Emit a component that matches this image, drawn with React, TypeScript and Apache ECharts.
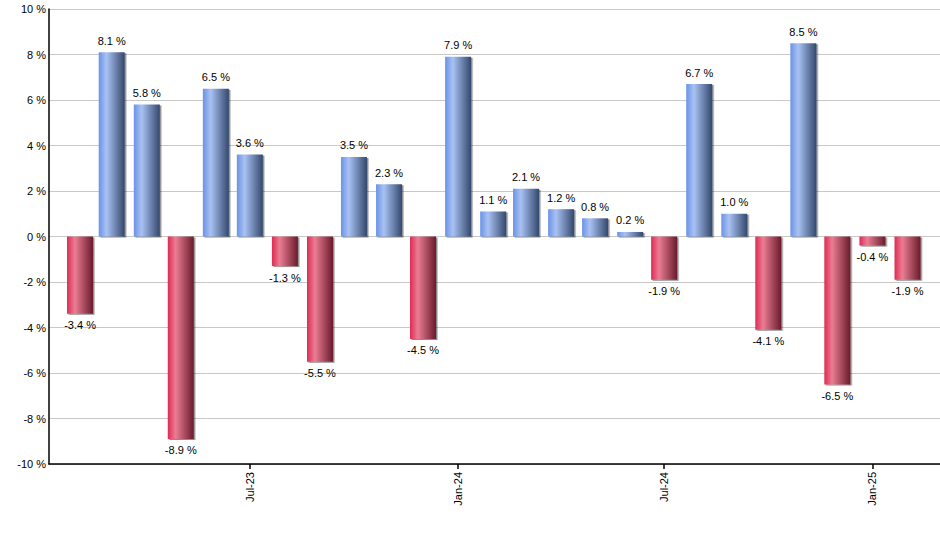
import React, { useEffect, useRef } from "react";
import * as echarts from "echarts";

// Monthly returns, Feb 2023 .. Feb 2025
const months: string[] = [
  "2023-02", "2023-03", "2023-04", "2023-05", "2023-06", "2023-07", "2023-08",
  "2023-09", "2023-10", "2023-11", "2023-12", "2024-01", "2024-02", "2024-03",
  "2024-04", "2024-05", "2024-06", "2024-07", "2024-08", "2024-09", "2024-10",
  "2024-11", "2024-12", "2025-01", "2025-02",
];
const returns: number[] = [
  -3.4, 8.1, 5.8, -8.9, 6.5, 3.6, -1.3, -5.5, 3.5, 2.3, -4.5, 7.9, 1.1, 2.1,
  1.2, 0.8, 0.2, -1.9, 6.7, 1.0, -4.1, 8.5, -6.5, -0.4, -1.9,
];
const tickMonths: string[] = ["2023-07", "2024-01", "2024-07", "2025-01"];
const monthNames: string[] = ["Jan", "Feb", "Mar", "Apr", "May", "Jun", "Jul", "Aug", "Sep", "Oct", "Nov", "Dec"];
const yTicks = { min: -10, max: 10, interval: 2 };

const DAY = 86400000;
// x position in days since epoch (UTC)
const toDay = (m: string) => {
  const [y, mo] = m.split("-").map(Number);
  return Date.UTC(y, mo - 1, 1) / DAY;
};

const blueGrad = new echarts.graphic.LinearGradient(0, 0, 1, 0, [
  { offset: 0, color: "#6a92e6" },
  { offset: 0.3, color: "#a9c2f3" },
  { offset: 1, color: "#33486d" },
]);
const redGrad = new echarts.graphic.LinearGradient(0, 0, 1, 0, [
  { offset: 0, color: "#df2a52" },
  { offset: 0.3, color: "#ea7d93" },
  { offset: 1, color: "#6a1b2c" },
]);

export default function App() {
  const ref = useRef<HTMLDivElement>(null);
  useEffect(() => {
    document.body.style.margin = "0";
    if (!ref.current) return;
    const chart = echarts.init(ref.current, null, { renderer: "svg" });
    const font = "'Liberation Sans', Arial, sans-serif";
    const tickVals = tickMonths.map(toDay);
    chart.setOption({
      animation: false,
      textStyle: { fontFamily: font },
      grid: { left: 49, right: 0, top: 9, bottom: 86, containLabel: false },
      xAxis: {
        type: "value",
        min: toDay(months[0]) - 27.4,
        max: toDay(months[months.length - 1]) + 28.7,
        axisLine: { show: true, onZero: false, lineStyle: { color: "#000", width: 1.5 } },
        splitLine: { show: false },
        axisTick: {
          show: true,
          length: 5,
          lineStyle: { color: "#000", width: 1.5 },
          customValues: tickVals,
        },
        axisLabel: {
          rotate: 90,
          color: "#000",
          fontSize: 11,
          fontFamily: font,
          margin: 8,
          customValues: tickVals,
          formatter: (v: number) => {
            const d = new Date(Math.round(v) * DAY);
            return monthNames[d.getUTCMonth()] + "-" + String(d.getUTCFullYear()).slice(2);
          },
        },
      },
      yAxis: {
        type: "value",
        min: yTicks.min,
        max: yTicks.max,
        interval: yTicks.interval,
        axisLine: { show: true, lineStyle: { color: "#000", width: 1.5 } },
        axisTick: { show: false },
        splitLine: { show: true, lineStyle: { color: "#c8c8c8", width: 1 } },
        axisLabel: {
          color: "#000",
          fontSize: 11,
          fontFamily: font,
          margin: 3,
          formatter: (v: number) => `${v} %`,
        },
      },
      series: [
        {
          type: "bar",
          barWidth: 26,
          data: months.map((m, i) => {
            const v = returns[i];
            return {
              value: [toDay(m), v],
              itemStyle: {
                color: v >= 0 ? blueGrad : redGrad,
                shadowColor: "rgba(0,0,0,0.45)",
                shadowOffsetX: 1.5,
                shadowOffsetY: 1,
                shadowBlur: 1,
              },
              label: {
                show: true,
                position: v >= 0 ? "top" : "bottom",
                distance: 6,
                color: "#000",
                fontSize: 11,
                fontFamily: font,
                formatter: () => `${v.toFixed(1)} %`,
              },
            };
          }),
        },
      ],
    });
    return () => chart.dispose();
  }, []);
  return <div ref={ref} style={{ width: 940, height: 550 }} />;
}
